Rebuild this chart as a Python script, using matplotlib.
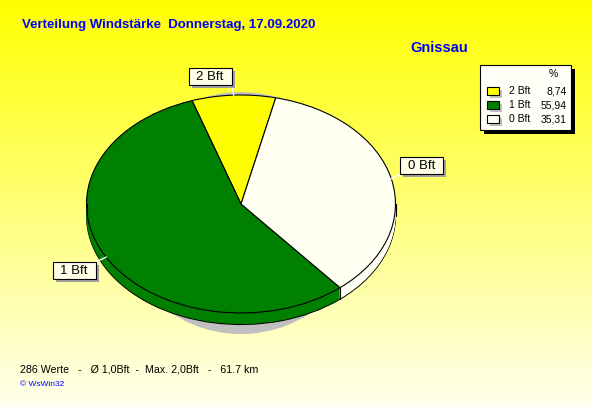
import numpy as np
import matplotlib
matplotlib.use('Agg')
import matplotlib.pyplot as plt
from matplotlib.patches import Ellipse, Rectangle

# ---- data ----
categories = ['2 Bft', '1 Bft', '0 Bft']
percent = [8.74, 55.94, 35.31]
colors = ['#FFFF00', '#008000', '#FFFFF2']
title = 'Verteilung Windstärke  Donnerstag, 17.09.2020'
station = 'Gnissau'
footer = '286 Werte   -   Ø 1,0Bft  -  Max. 2,0Bft   -   61.7 km'
credit = '© WsWin32'

# ---- layout ----
plt.rcParams['font.family'] = ['Liberation Sans', 'DejaVu Sans']
W, H = 592, 407
fig = plt.figure(figsize=(W / 100, H / 100), dpi=100)

bg = fig.add_axes([0, 0, 1, 1], zorder=0)
g = np.linspace(0, 0.93, 256)
rgb = np.ones((256, 1, 3))
rgb[:, 0, 2] = g
bg.imshow(rgb, aspect='auto', extent=(0, W, H, 0))
bg.axis('off')

cx, cy, rx, ry = 241, 204, 154.5, 109
lim = 1.25
ax = fig.add_axes([(cx - lim * rx) / W, (H - cy - lim * ry) / H,
                   2 * lim * rx / W, 2 * lim * ry / H], zorder=1)
depth = 11.5 / ry
start = 77

# shadow
ax.add_patch(Ellipse((0.0, -0.083), 2 * 0.80, 2 * 1.11, facecolor='#C0C0C0',
                     edgecolor='none', zorder=0))

n = 18
offs = np.linspace(-depth, 0, n)
for i, off in enumerate(offs):
    edge = 'black' if i in (0, n - 1) else 'none'
    ax.pie(percent, colors=colors, startangle=start, counterclock=True,
           center=(0, off), radius=1,
           wedgeprops=dict(edgecolor=edge, linewidth=0.8, zorder=1 + i))

tot = sum(percent)
thetas = start + 360 * np.concatenate([[0], np.cumsum(percent)]) / tot
for t in thetas[:-1]:
    s, c = np.sin(np.radians(t)), np.cos(np.radians(t))
    if s < 0:
        ax.plot([c, c], [s, s - depth], color='black', lw=0.8, zorder=n)
for xe in (-1, 1):
    ax.plot([xe, xe], [0, -depth], color='black', lw=0.8, zorder=n)

ax.set_xlim(-lim, lim)
ax.set_ylim(-lim, lim)
ax.set_aspect('auto')
ax.axis('off')

# ---- overlay: texts, labels and legend ----
ov = fig.add_axes([0, 0, 1, 1], zorder=5)
ov.set_xlim(0, W)
ov.set_ylim(H, 0)
ov.axis('off')

# slice labels with leader lines
label_offsets = [(-23.5, -18.5), (-32, 13.5), (30.5, -13)]
bw, bh = 43, 17
mids = (thetas[:-1] + thetas[1:]) / 2
for lab, m, o in zip(categories, mids, label_offsets):
    px, py = ax.transData.transform((np.cos(np.radians(m)), np.sin(np.radians(m))))
    ax_, ay_ = px, H - py
    bx, by = ax_ + o[0], ay_ + o[1]
    corners = [(bx + sx * bw / 2, by + sy * bh / 2) for sx in (-1, 1) for sy in (-1, 1)]
    kx, ky = min(corners, key=lambda p: (p[0] - ax_) ** 2 + (p[1] - ay_) ** 2)
    ov.plot([ax_, kx], [ay_, ky], color='white', lw=1, zorder=1)
    ov.add_patch(Rectangle((bx - bw / 2 + 3, by - bh / 2 + 3), bw, bh,
                           fc='#A0A0A0', ec='none', zorder=2))
    ov.add_patch(Rectangle((bx - bw / 2, by - bh / 2), bw, bh,
                           fc='#FFFFE8', ec='black', lw=0.8, zorder=3))
    ov.text(bx, by + 0.5, lab, ha='center', va='center', fontsize=9.5, zorder=4)

ov.text(22, 25, title, color='#0000FF', fontsize=9.5, fontweight='bold',
        ha='left', va='center')
ov.text(410, 48, station, color='#0000FF', fontsize=10.5, fontweight='bold',
        ha='left', va='center')
ov.text(20, 370, footer, color='black', fontsize=7.7, ha='left', va='center')
ov.text(20, 385, credit, color='#0000FF', fontsize=6, ha='left', va='center')

ov.add_patch(Rectangle((484, 69), 91, 65, fc='black', ec='none'))
ov.add_patch(Rectangle((480, 65), 91, 65, fc='#FFFFF8', ec='black', lw=0.8))
ov.text(553, 74, '%', ha='center', va='center', fontsize=7.5)
for i, (lab, p, col) in enumerate(zip(categories, percent, colors)):
    y = 91 + 14 * i
    ov.add_patch(Rectangle((490, y - 1), 12, 8, fc='#C0C0C0', ec='none'))
    ov.add_patch(Rectangle((487, y - 4), 12, 8, fc=col, ec='black', lw=0.8))
    ov.text(509, y, lab, ha='left', va='center', fontsize=7.5)
    ov.text(567, y, f'{p:.2f}'.replace('.', ','), ha='right', va='center', fontsize=7.5)

fig.savefig('out.png', dpi=100)
